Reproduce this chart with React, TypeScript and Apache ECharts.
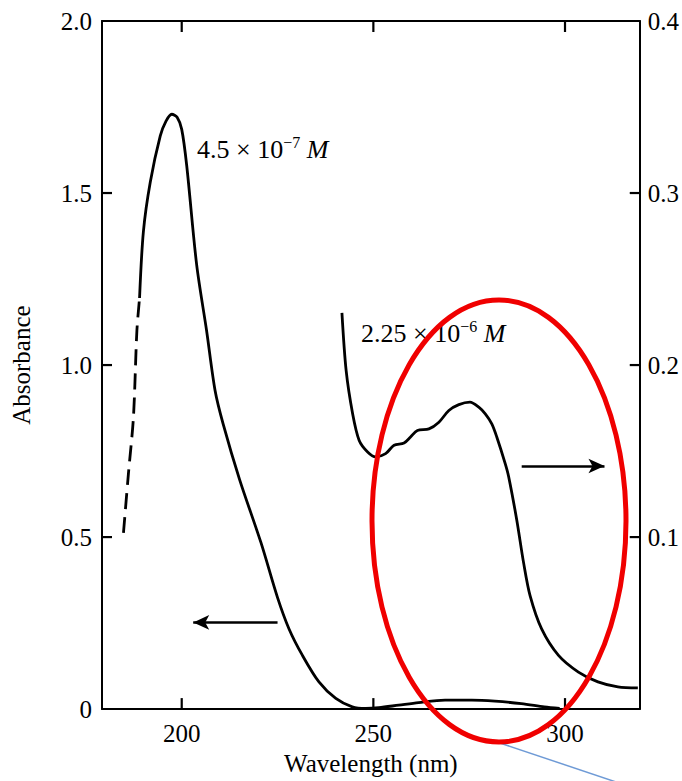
import React, { useEffect, useRef } from 'react';
import * as echarts from 'echarts';

// axis ticks
const xTicks = [200, 250, 300];
const yLeftTicks = [0.5, 1.0, 1.5];
const yRightTicks = [0.1, 0.2, 0.3];

// 4.5e-7 M curve, dashed low-wavelength part (left axis)
const dashWl = [184.8, 186.1, 187.4, 188.3, 189.0];
const dashAbs = [0.512, 0.685, 0.848, 1.099, 1.195];

// 4.5e-7 M curve, solid part (left axis)
const c1Wl = [189.0, 190.0, 191.8, 194.4, 195.9, 197.4, 198.8, 200.0, 201.3, 203.9, 206.5, 208.7, 210.8, 215.1, 220.7, 225.0, 228.0, 231.5, 235.8, 240.2, 244.5, 248.0, 251.4, 256.6, 261.8, 268.7, 275.7, 281.7, 288.6, 294.6, 298.6];
const c1Abs = [1.195, 1.388, 1.532, 1.666, 1.709, 1.729, 1.720, 1.685, 1.580, 1.291, 1.099, 0.926, 0.829, 0.667, 0.483, 0.324, 0.233, 0.156, 0.079, 0.031, 0.0066, 0.002, 0.004, 0.0115, 0.019, 0.026, 0.026, 0.023, 0.016, 0.0066, 0.002];

// 2.25e-6 M curve (right axis)
const c2Wl = [241.8, 242.9, 244.6, 246.3, 248.5, 250.6, 253.2, 255.4, 258.0, 259.7, 261.5, 264.5, 267.1, 269.7, 272.3, 275.2, 277.5, 279.2, 280.9, 282.2, 284.4, 285.3, 287.4, 289.2, 290.9, 293.9, 298.3, 303.5, 308.6, 313.8, 319.0];
const c2Abs = [0.2303, 0.1967, 0.1716, 0.1562, 0.1495, 0.1466, 0.1485, 0.1534, 0.1547, 0.1582, 0.1620, 0.1629, 0.1668, 0.1736, 0.1770, 0.1784, 0.1755, 0.1716, 0.1658, 0.1582, 0.1427, 0.1351, 0.1101, 0.0850, 0.0658, 0.0466, 0.0312, 0.0215, 0.0158, 0.0129, 0.0123];

// arrows: [start, end] in data coordinates
const leftArrow = [[225.0, 0.252], [203.0, 0.252]];
const rightArrow = [[288.7, 0.1413], [310.3, 0.1413]];

const X_MIN = 179.2;
const X_MAX = 319.5;

const SERIF = '"Liberation Serif", "DejaVu Serif", serif';

const pairs = (xs: number[], ys: number[]) => xs.map((x, i) => [x, ys[i]]);

const arrowMark = (a: number[][]) => ({
  silent: true,
  symbol: ['none', 'arrow'],
  symbolSize: [11, 16],
  label: { show: false },
  emphasis: { disabled: true },
  lineStyle: { color: '#000', width: 2.5, type: 'solid' },
  data: [[{ coord: a[0] }, { coord: a[1] }]],
});

const richParts = {
  n: { fontSize: 26, fontFamily: SERIF, fill: '#000', lineHeight: 30 },
  s: { fontSize: 16, fontFamily: SERIF, fill: '#000', verticalAlign: 'top', lineHeight: 16 },
  m: { fontSize: 26, fontFamily: SERIF, fontStyle: 'italic', fill: '#000', lineHeight: 30 },
};

export default function App() {
  const ref = useRef<HTMLDivElement>(null);
  useEffect(() => {
    document.body.style.margin = '0';
    const chart = echarts.init(ref.current!, null, { renderer: 'svg' });
    const axisLine = { show: true, onZero: false, lineStyle: { color: '#000', width: 2 } };
    const labelStyle = { fontSize: 25, fontFamily: SERIF, color: '#000' };
    chart.setOption({
      animation: false,
      backgroundColor: '#fff',
      grid: { left: 102, right: 40, top: 21, bottom: 67 },
      xAxis: [
        {
          type: 'value', min: X_MIN, max: X_MAX, position: 'bottom',
          axisLine, splitLine: { show: false },
          axisTick: { show: false },
          axisLabel: { ...labelStyle, margin: 12, customValues: xTicks },
          name: 'Wavelength (nm)', nameLocation: 'middle', nameGap: 41,
          nameTextStyle: { fontSize: 25, fontFamily: SERIF, color: '#000' },
        },
        {
          type: 'value', min: X_MIN, max: X_MAX, position: 'top',
          axisLine, splitLine: { show: false },
          axisTick: { show: false },
          axisLabel: { show: false },
        },
      ],
      yAxis: [
        {
          type: 'value', min: 0, max: 2, interval: 0.5, position: 'left',
          axisLine, splitLine: { show: false },
          axisTick: { show: false },
          axisLabel: { ...labelStyle, margin: 10, formatter: (v: number) => (v === 0 ? '0' : v.toFixed(1)) },
          name: 'Absorbance', nameLocation: 'middle', nameGap: 68, nameRotate: 90,
          nameTextStyle: { fontSize: 25, fontFamily: SERIF, color: '#000' },
        },
        {
          type: 'value', min: 0, max: 0.4, interval: 0.1, position: 'right',
          axisLine, splitLine: { show: false },
          axisTick: { show: false },
          axisLabel: { ...labelStyle, margin: 8, formatter: (v: number) => (v === 0 ? '' : v.toFixed(1)) },
        },
      ],
      series: [
        {
          type: 'line', xAxisIndex: 0, yAxisIndex: 0, data: pairs(dashWl, dashAbs),
          symbol: 'none', smooth: 0.3, silent: true,
          lineStyle: { color: '#000', width: 2.8, type: [16, 8] },
        },
        {
          type: 'line', xAxisIndex: 0, yAxisIndex: 0, data: pairs(c1Wl, c1Abs),
          symbol: 'none', smooth: 0.3, silent: true,
          lineStyle: { color: '#000', width: 2.8 },
          markLine: arrowMark(leftArrow),
        },
        {
          type: 'line', xAxisIndex: 0, yAxisIndex: 1, data: pairs(c2Wl, c2Abs),
          symbol: 'none', smooth: 0.3, silent: true,
          lineStyle: { color: '#000', width: 2.8 },
          markLine: arrowMark(rightArrow),
        },
      ],
    });

    // inward tick marks placed through the axes' own scales
    const px = (v: number) => chart.convertToPixel({ xAxisIndex: 0 }, v) as number;
    const pyL = (v: number) => chart.convertToPixel({ yAxisIndex: 0 }, v) as number;
    const pyR = (v: number) => chart.convertToPixel({ yAxisIndex: 1 }, v) as number;
    const left = px(X_MIN);
    const right = px(X_MAX);
    const top = pyL(2);
    const bottom = pyL(0);
    const tk = { stroke: '#000', lineWidth: 2.2 };
    const ticks: any[] = [];
    xTicks.forEach((v) => {
      const x = px(v);
      ticks.push({ type: 'line', z: 40, shape: { x1: x, y1: bottom, x2: x, y2: bottom - 11 }, style: tk });
      ticks.push({ type: 'line', z: 40, shape: { x1: x, y1: top, x2: x, y2: top + 11 }, style: tk });
    });
    yLeftTicks.forEach((v) => {
      const y = pyL(v);
      ticks.push({ type: 'line', z: 40, shape: { x1: left, y1: y, x2: left + 10, y2: y }, style: tk });
    });
    yRightTicks.forEach((v) => {
      const y = pyR(v);
      ticks.push({ type: 'line', z: 40, shape: { x1: right, y1: y, x2: right - 10, y2: y }, style: tk });
    });

    chart.setOption({
      graphic: [
        ...ticks,
        {
          type: 'text', x: 197, y: 134, z: 50,
          style: { text: '{n|4.5 × 10}{s|−7}{m| M}', fill: '#000', rich: richParts },
        },
        {
          type: 'text', x: 361, y: 318, z: 50,
          style: { text: '{n|2.25 × 10}{s|−6}{m| M}', fill: '#000', rich: richParts },
        },
        {
          type: 'ellipse', z: 60,
          shape: { cx: 499, cy: 521, rx: 127, ry: 221 },
          style: { fill: 'none', stroke: '#f00000', lineWidth: 5 },
        },
        {
          type: 'line', z: 59,
          shape: { x1: 497, y1: 742, x2: 625, y2: 785 },
          style: { stroke: '#6f9bd6', lineWidth: 1.5 },
        },
      ],
    });
    return () => chart.dispose();
  }, []);
  return <div ref={ref} style={{ width: 682, height: 781, background: '#fff' }} />;
}
